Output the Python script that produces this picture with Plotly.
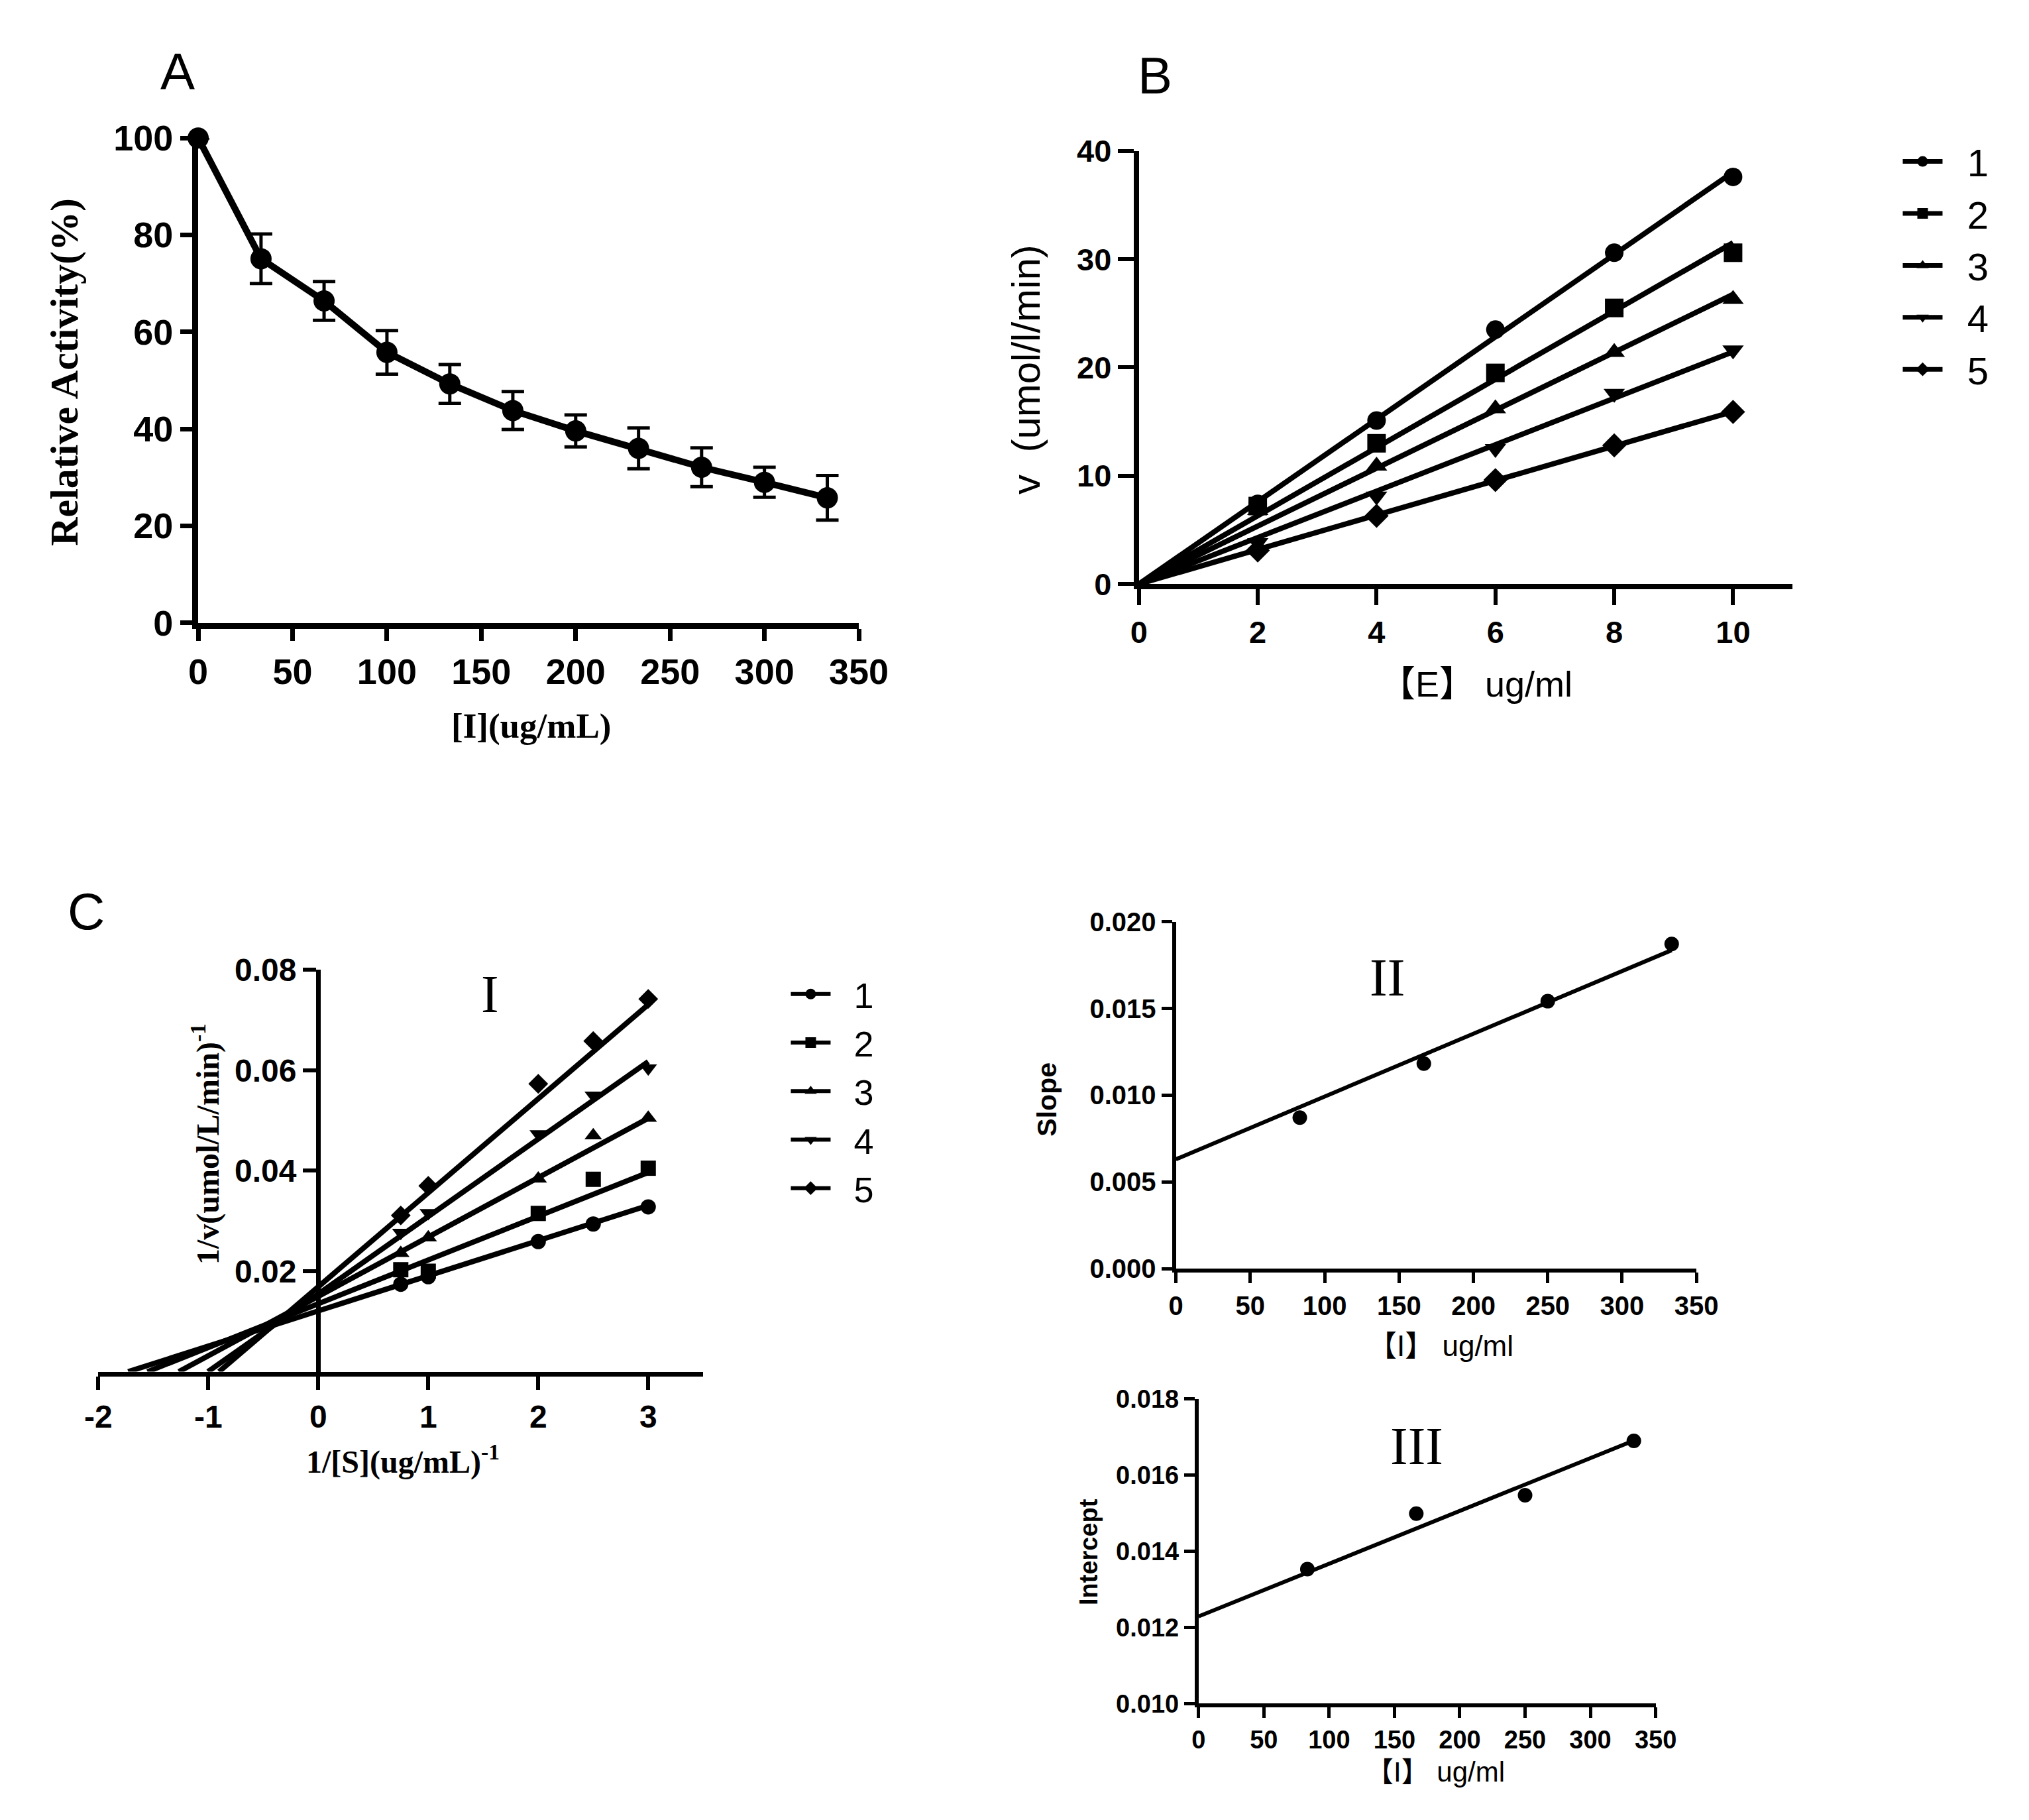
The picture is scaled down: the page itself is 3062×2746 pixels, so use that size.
import numpy as np
import plotly.graph_objects as go

# ---------------- data ----------------
# A: inhibition curve
inhib_conc = [0, 33.3, 66.7, 100, 133.3, 166.7, 200, 233.3, 266.7, 300, 333.3]
rel_activity = [100, 75.1, 66.4, 55.8, 49.3, 43.8, 39.6, 36.0, 32.1, 29.0, 25.8]
rel_activity_err = [0, 5.1, 4.0, 4.5, 4.0, 3.9, 3.3, 4.2, 4.0, 3.1, 4.6]

# B: rate vs enzyme concentration
enzyme_conc = [2, 4, 6, 8, 10]
rate_series = {
    "1": [7.4, 15.1, 23.5, 30.6, 37.6],
    "2": [7.2, 13.0, 19.5, 25.5, 30.6],
    "3": [6.8, 10.9, 16.2, 21.4, 26.3],
    "4": [3.8, 8.1, 12.5, 17.6, 21.6],
    "5": [3.1, 6.3, 9.6, 12.8, 15.9],
}

# C-I: Lineweaver-Burk
inv_s = [0.75, 1, 2, 2.5, 3]
inv_v_series = {
    "1": [0.0174, 0.0189, 0.0259, 0.0294, 0.0328],
    "2": [0.0203, 0.0200, 0.0315, 0.0383, 0.0405],
    "3": [0.0236, 0.0267, 0.0384, 0.0470, 0.0505],
    "4": [0.0277, 0.0316, 0.0473, 0.0550, 0.0604],
    "5": [0.0311, 0.0370, 0.0573, 0.0658, 0.0742],
}

# C-II / C-III: secondary plots (first value = no inhibitor, not drawn as a point)
inhib_sec = [0, 83.3, 166.7, 250, 333.3]
slope_vals = [0.0070, 0.00871, 0.01182, 0.01542, 0.01872]
intercept_vals = [0.0121, 0.01353, 0.01499, 0.01547, 0.01690]

series_names = ["1", "2", "3", "4", "5"]
symbols = ["circle", "square", "triangle-up", "triangle-down", "diamond"]

# ---------------- layout helpers ----------------
W, H = 3062, 2746


def px(x):
    return x / W


def py(y):
    return 1 - y / H


ARIAL = "Liberation Sans, Arial, Noto Sans CJK SC"
TIMES = "Liberation Serif, Times New Roman, serif"
GAP = "\u00a0\u00a0"


def axis(domain, rng, lw, tlen, tsize, **kw):
    d = dict(domain=domain, range=rng, showline=True, linecolor="black", linewidth=lw,
             ticks="outside", ticklen=tlen, tickwidth=lw * 0.8, tickcolor="black",
             showgrid=False, zeroline=False,
             tickfont=dict(family=ARIAL, size=tsize, color="black", weight="bold"))
    d.update(kw)
    return d


fig = go.Figure()

# ---------------- A ----------------
fig.add_trace(go.Scatter(
    x=inhib_conc, y=rel_activity, mode="lines+markers",
    line=dict(color="black", width=10),
    marker=dict(symbol="circle", size=32, color="black"),
    error_y=dict(type="data", array=rel_activity_err, color="black", thickness=5, width=17),
    xaxis="x", yaxis="y", showlegend=False, cliponaxis=False))

# ---------------- B ----------------
for name, sym in zip(series_names, symbols):
    yv = np.array(rate_series[name])
    xv = np.array(enzyme_conc)
    k = (xv * yv).sum() / (xv * xv).sum()  # fit through the origin
    fig.add_trace(go.Scatter(
        x=[0, xv.max()], y=[0, k * xv.max()], mode="lines",
        line=dict(color="black", width=8), xaxis="x2", yaxis="y2",
        showlegend=False, hoverinfo="skip", cliponaxis=False))
    fig.add_trace(go.Scatter(
        x=enzyme_conc, y=rate_series[name], mode="markers", name=name,
        marker=dict(symbol=sym, size=28, color="black"),
        xaxis="x2", yaxis="y2", showlegend=False, cliponaxis=False))
    # legend key
    fig.add_trace(go.Scatter(
        x=[None], y=[None], mode="lines+markers", name=GAP + name,
        line=dict(color="black", width=7),
        marker=dict(symbol=sym, size=16, color="black"),
        xaxis="x2", yaxis="y2", legend="legend"))

# ---------------- C-I ----------------
for i, (name, sym) in enumerate(zip(series_names, symbols)):
    m, b = slope_vals[i], intercept_vals[i]
    x_int = -b / m
    fig.add_trace(go.Scatter(
        x=[x_int, max(inv_s)], y=[0, m * max(inv_s) + b], mode="lines",
        line=dict(color="black", width=8), xaxis="x3", yaxis="y3",
        showlegend=False, hoverinfo="skip", cliponaxis=False))
    fig.add_trace(go.Scatter(
        x=inv_s, y=inv_v_series[name], mode="markers", name=name,
        marker=dict(symbol=sym, size=23, color="black"),
        xaxis="x3", yaxis="y3", showlegend=False, cliponaxis=False))
    fig.add_trace(go.Scatter(
        x=[None], y=[None], mode="lines+markers", name=GAP + name,
        line=dict(color="black", width=6),
        marker=dict(symbol=sym, size=16, color="black"),
        xaxis="x3", yaxis="y3", legend="legend2"))

# ---------------- C-II / C-III ----------------
for vals, xa, ya in [(slope_vals, "x4", "y4"), (intercept_vals, "x5", "y5")]:
    m, b = np.polyfit(inhib_sec, vals, 1)
    fig.add_trace(go.Scatter(
        x=[0, max(inhib_sec)], y=[b, m * max(inhib_sec) + b], mode="lines",
        line=dict(color="black", width=6), xaxis=xa, yaxis=ya,
        showlegend=False, hoverinfo="skip", cliponaxis=False))
    fig.add_trace(go.Scatter(
        x=inhib_sec[1:], y=vals[1:], mode="markers",
        marker=dict(symbol="circle", size=22, color="black"),
        xaxis=xa, yaxis=ya, showlegend=False, cliponaxis=False))

# ---------------- annotations ----------------
def note(text, x, y, size, family=ARIAL, bold=False, angle=0, ref=("paper", "paper")):
    return dict(text=text, x=x, y=y, xref=ref[0], yref=ref[1], showarrow=False,
                textangle=angle, xanchor="center", yanchor="middle",
                font=dict(family=family, size=size, color="black",
                          weight="bold" if bold else "normal"))


annotations = [
    note("A", px(244), py(72), 78),
    note("B", px(1752), py(78), 78),
    note("C", px(103), py(1367), 78),
    note("[I](ug/mL)", px(790), py(1081), 53, TIMES, True),
    note("Relative Activity(%)", px(70), py(535), 60, TIMES, True, -90),
    note("【E】 ug/ml", px(2247), py(1016), 54),
    note("v  (umol/l/min)", px(1553), py(531), 60, angle=-90),
    note("1/[S](ug/mL)<sup>-1</sup>", px(592), py(2213), 48, TIMES, True),
    note("1/v(umol/L/min)<sup>-1</sup>", px(287), py(1726), 48, TIMES, True, -90),
    note("【I】 ug/ml", px(2192), py(2037), 44),
    note("Slope", px(1585), py(1657), 41, bold=True, angle=-90),
    note("【I】 ug/ml", px(2184), py(2694), 42),
    note("Intercept", px(1649), py(2355), 38, bold=True, angle=-90),
    note("I", 1.56, 0.0751, 80, TIMES, ref=("x3", "y3")),
    note("II", 142, 0.0168, 80, TIMES, ref=("x4", "y4")),
    note("III", 167, 0.01676, 80, TIMES, ref=("x5", "y5")),
]

fig.update_layout(
    width=W, height=H, margin=dict(l=0, r=0, t=0, b=0),
    paper_bgcolor="white", plot_bgcolor="white",
    font=dict(family=ARIAL, color="black"),
    annotations=annotations,
    # A
    xaxis=axis([px(276), px(1295)], [0, 350], 9, 18, 54, anchor="y",
               tickvals=[0, 50, 100, 150, 200, 250, 300, 350]),
    yaxis=axis([py(922), py(174)], [0, 100], 9, 18, 54, anchor="x",
               tickvals=[0, 20, 40, 60, 80, 100]),
    # B
    xaxis2=axis([px(1727), px(2735)], [0, 11], 8, 24, 47, anchor="y2",
                tickvals=[0, 2, 4, 6, 8, 10]),
    yaxis2=axis([py(862), py(194)], [0, 40], 8, 24, 47, anchor="x2",
                tickvals=[0, 10, 20, 30, 40]),
    # C-I
    xaxis3=axis([px(122), px(1055)], [-2, 3.5], 7, 20, 48, anchor="y3",
                tickvals=[-2, -1, 0, 1, 2, 3], ticktext=["-2", "-1", "0", "1", "2", "3"]),
    yaxis3=axis([py(2077), py(1457)], [0, 0.08], 7, 20, 48, anchor="free", position=px(461),
                tickvals=[0.02, 0.04, 0.06, 0.08], ticktext=["0.02", "0.04", "0.06", "0.08"]),
    # C-II
    xaxis4=axis([px(1784), px(2587)], [0, 350], 6, 16, 40, anchor="y4",
                tickvals=[0, 50, 100, 150, 200, 250, 300, 350]),
    yaxis4=axis([py(1918), py(1383)], [0, 0.020], 6, 16, 40, anchor="x4",
                tickvals=[0, 0.005, 0.010, 0.015, 0.020], tickformat=".3f"),
    # C-III
    xaxis5=axis([px(1819), px(2524)], [0, 350], 6, 16, 38, anchor="y5",
                tickvals=[0, 50, 100, 150, 200, 250, 300, 350]),
    yaxis5=axis([py(2589), py(2119)], [0.010, 0.018], 6, 16, 38, anchor="x5",
                tickvals=[0.010, 0.012, 0.014, 0.016, 0.018], tickformat=".3f"),
    legend=dict(x=px(2900), y=py(165), xanchor="left", yanchor="top",
                font=dict(family=ARIAL, size=58, color="black"),
                bgcolor="rgba(0,0,0,0)", itemwidth=60, itemsizing="trace"),
    legend2=dict(x=px(1185), y=py(1452), xanchor="left", yanchor="top",
                 font=dict(family=ARIAL, size=54, color="black"),
                 bgcolor="rgba(0,0,0,0)", itemwidth=60, itemsizing="trace"),
)

fig.write_html("out.html")
